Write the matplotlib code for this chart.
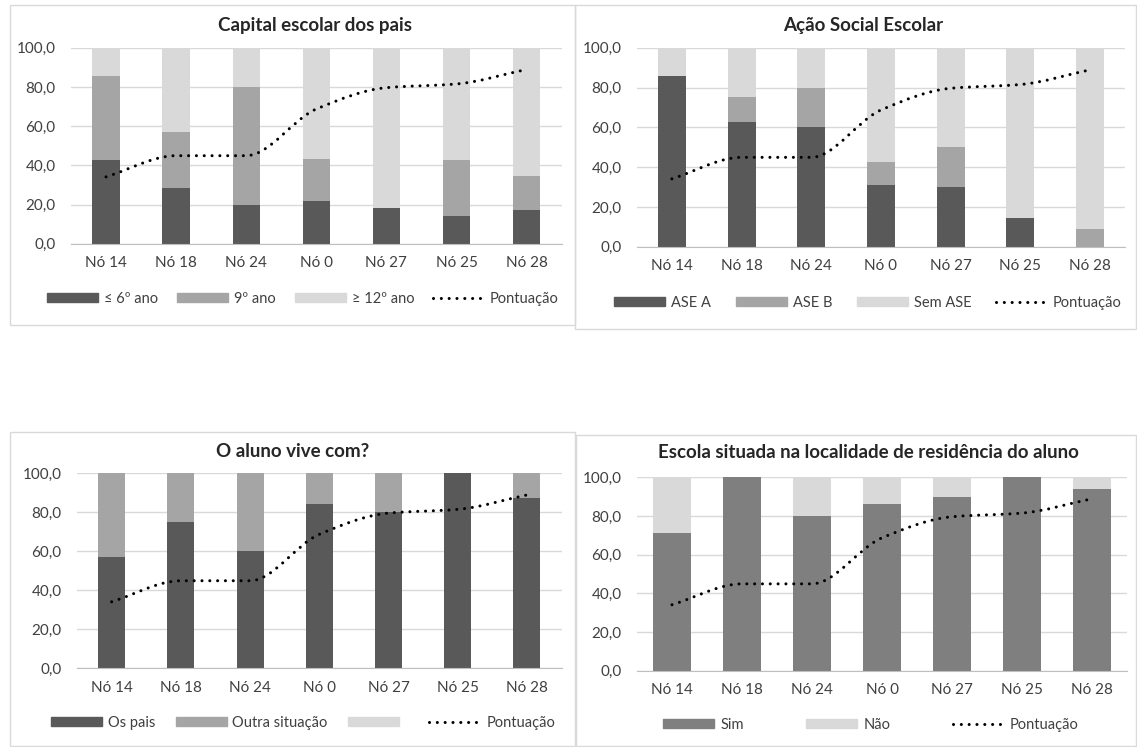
import numpy as np
import matplotlib.pyplot as plt
from matplotlib.path import Path
from matplotlib.patches import PathPatch, Rectangle, Patch
from matplotlib.lines import Line2D

plt.rcParams['font.family'] = ['Lato', 'DejaVu Sans']

nos = ['Nó 14', 'Nó 18', 'Nó 24', 'Nó 0', 'Nó 27', 'Nó 25', 'Nó 28']
pontuacao = [34.1, 44.9, 44.9, 68.7, 79.6, 81.5, 88.9]

# capital escolar dos pais
cap_6 = [42.9, 28.6, 20.0, 21.6, 18.0, 14.3, 17.2]
cap_9 = [42.8, 28.5, 60.0, 21.6, 0.0, 28.6, 17.5]
cap_12 = [14.3, 42.9, 20.0, 56.8, 82.0, 57.1, 65.3]

# ação social escolar
ase_a = [85.7, 62.5, 60.0, 30.8, 30.0, 14.3, 0.0]
ase_b = [0.0, 12.5, 20.0, 12.0, 20.0, 0.0, 9.0]
sem_ase = [14.3, 25.0, 20.0, 57.2, 50.0, 85.7, 91.0]

# o aluno vive com
os_pais = [57.1, 75.0, 60.0, 84.4, 80.0, 100.0, 87.5]
outra = [42.9, 25.0, 40.0, 15.6, 20.0, 0.0, 12.5]
vazio = [0, 0, 0, 0, 0, 0, 0]

# escola na localidade de residência
sim = [71.4, 100.0, 80.0, 86.4, 90.0, 100.0, 93.8]
nao = [28.6, 0.0, 20.0, 13.6, 10.0, 0.0, 6.2]

DARK = '#595959'
MID = '#a5a5a5'
LIGHT = '#d9d9d9'
SIM = '#7f7f7f'
TXT = '#404040'
DOTS = (0, (0.01, 2.55))


def smooth_path(x, y):
    # bezier curve through the points, tangents kept monotone so flat stretches stay flat
    x = np.asarray(x, float)
    y = np.asarray(y, float)
    n = len(x)
    d = np.diff(y) / np.diff(x)
    m = np.zeros(n)
    m[0], m[-1] = d[0], d[-1]
    for i in range(1, n - 1):
        if d[i - 1] * d[i] > 0:
            m[i] = 2 / (1 / d[i - 1] + 1 / d[i])
    verts = [(x[0], y[0])]
    codes = [Path.MOVETO]
    for i in range(n - 1):
        h = x[i + 1] - x[i]
        verts += [(x[i] + h / 3, y[i] + m[i] * h / 3),
                  (x[i + 1] - h / 3, y[i + 1] - m[i + 1] * h / 3),
                  (x[i + 1], y[i + 1])]
        codes += [Path.CURVE4] * 3
    return Path(verts, codes)


def painel(rect, series, cores, nomes, largura, titulo, tpos, lpos, colsp):
    ax = fig.add_axes(rect)
    x = np.arange(len(nos))
    base = np.zeros(len(nos))
    for vals, cor in zip(series, cores):
        ax.bar(x, vals, width=largura, bottom=base, color=cor, linewidth=0, zorder=2)
        base = base + np.array(vals)
    ax.add_patch(PathPatch(smooth_path(x, pontuacao), fill=False, edgecolor='black',
                           lw=2.2, linestyle=DOTS, capstyle='round', zorder=3))
    ax.set_xlim(-0.5, len(nos) - 0.5)
    ax.set_ylim(0, 100)
    ticks = list(range(0, 101, 20))
    ax.set_yticks(ticks)
    ax.set_yticklabels([('%.1f' % v).replace('.', ',') for v in ticks])
    ax.set_xticks(x)
    ax.set_xticklabels(nos)
    ax.tick_params(axis='both', length=0, labelsize=11, colors=TXT)
    ax.tick_params(axis='y', pad=11)
    ax.tick_params(axis='x', pad=9)
    ax.grid(axis='y', color=LIGHT, lw=1, zorder=0)
    ax.set_axisbelow(True)
    for s in ['left', 'right', 'top']:
        ax.spines[s].set_visible(False)
    ax.spines['bottom'].set_color('#bfbfbf')
    fig.text(tpos[0] / W, 1 - tpos[1] / H, titulo, ha='center', va='center',
             fontsize=13.5, fontweight='bold', color='#262626')
    handles = [Patch(color=c) for c in cores]
    handles.append(Line2D([], [], color='black', lw=2.2, linestyle=DOTS,
                          dash_capstyle='round'))
    fig.legend(handles, nomes + ['Pontuação'], loc='center',
               bbox_to_anchor=(lpos[0] / W, 1 - lpos[1] / H), ncol=len(handles),
               frameon=False, fontsize=10.5, handlelength=3.5, handleheight=0.6,
               handletextpad=0.4, columnspacing=colsp, labelcolor=TXT)
    return ax


W, H = 1137, 747
fig = plt.figure(figsize=(W / 100, H / 100), dpi=100)

# molduras de cada gráfico
for (x0, y0, x1, y1) in [(10, 5, 575, 325), (575, 5, 1136, 329),
                         (10, 432, 575, 746), (576, 435, 1136, 746)]:
    fig.add_artist(Rectangle((x0 / W, 1 - y1 / H), (x1 - x0) / W, (y1 - y0) / H,
                             transform=fig.transFigure, fill=False,
                             edgecolor='#d9d9d9', lw=1))


def px(l, t, r, b):
    return [l / W, 1 - b / H, (r - l) / W, (b - t) / H]


painel(px(71, 47.7, 561.6, 243.7), [cap_6, cap_9, cap_12], [DARK, MID, LIGHT],
       ['≤ 6º ano', '9º ano', '≥ 12º ano'], 0.39, 'Capital escolar dos pais',
       (315, 26), (303, 299), 1.3)
painel(px(637, 47.7, 1125, 246.7), [ase_a, ase_b, sem_ase], [DARK, MID, LIGHT],
       ['ASE A', 'ASE B', 'Sem ASE'], 0.40, 'Ação Social Escolar',
       (863, 26), (868, 302.7), 1.7)
painel(px(77, 473.3, 561.6, 668.3), [os_pais, outra, vazio], [DARK, MID, LIGHT],
       ['Os pais', 'Outra situação', ' '], 0.39, 'O aluno vive com?',
       (293, 451.7), (303, 723), 1.4)
painel(px(637, 477.3, 1127, 670.7), [sim, nao], [SIM, LIGHT],
       ['Sim', 'Não'], 0.54, 'Escola situada na localidade de residência do aluno',
       (868, 453), (871, 725), 4.3)

fig.savefig('out.png', dpi=100)
